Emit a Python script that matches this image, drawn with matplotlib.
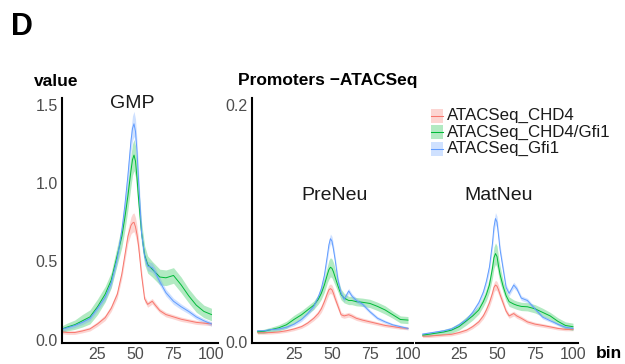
import matplotlib
matplotlib.use("Agg")
import matplotlib.pyplot as plt
from matplotlib.patches import Rectangle
from matplotlib.lines import Line2D
import numpy as np

plt.rcParams['font.family'] = ['Liberation Sans', 'DejaVu Sans']

series_names = ["ATACSeq_CHD4", "ATACSeq_CHD4/Gfi1", "ATACSeq_Gfi1"]
colors = ["#F8766D", "#00BA38", "#619CFF"]
panel_titles = ["GMP", "PreNeu", "MatNeu"]

bins = [1, 5, 10, 15, 20, 25, 30, 34, 38, 41, 43, 45, 47, 48, 49, 50, 51, 52,
        54, 56, 58, 61, 63, 66, 70, 75, 80, 85, 90, 95, 100]

# GMP
gmp_chd4 = [0.05, 0.045, 0.045, 0.055, 0.068, 0.10, 0.14, 0.20, 0.29, 0.42, 0.54, 0.66, 0.73, 0.745, 0.75, 0.72, 0.67, 0.60,
            0.41, 0.26, 0.225, 0.245, 0.22, 0.185, 0.16, 0.145, 0.13, 0.12, 0.11, 0.105, 0.10]
gmp_both = [0.065, 0.08, 0.095, 0.12, 0.145, 0.21, 0.29, 0.38, 0.54, 0.66, 0.78, 0.92, 1.08, 1.15, 1.18, 1.14, 1.03, 0.90,
            0.68, 0.54, 0.48, 0.45, 0.43, 0.40, 0.395, 0.41, 0.35, 0.28, 0.22, 0.18, 0.16]
gmp_gfi1 = [0.065, 0.075, 0.09, 0.11, 0.135, 0.20, 0.27, 0.36, 0.52, 0.70, 0.86, 1.05, 1.27, 1.35, 1.38, 1.33, 1.20, 1.02,
            0.68, 0.53, 0.47, 0.46, 0.43, 0.37, 0.30, 0.245, 0.21, 0.18, 0.145, 0.12, 0.10]
gmp_chd4_se = [0.012, 0.012, 0.012, 0.012, 0.013, 0.015, 0.018, 0.02, 0.025, 0.03, 0.035, 0.045, 0.055, 0.06, 0.06, 0.06, 0.055, 0.05,
               0.035, 0.02, 0.018, 0.018, 0.017, 0.015, 0.015, 0.014, 0.014, 0.013, 0.013, 0.012, 0.012]
gmp_both_se = [0.02, 0.025, 0.03, 0.04, 0.045, 0.05, 0.05, 0.05, 0.06, 0.07, 0.08, 0.09, 0.1, 0.1, 0.1, 0.1, 0.1, 0.09,
               0.07, 0.06, 0.055, 0.05, 0.05, 0.05, 0.05, 0.05, 0.05, 0.045, 0.045, 0.04, 0.04]
gmp_gfi1_se = [0.012, 0.012, 0.013, 0.014, 0.015, 0.018, 0.02, 0.025, 0.03, 0.04, 0.05, 0.06, 0.07, 0.08, 0.08, 0.08, 0.07, 0.06,
               0.04, 0.03, 0.03, 0.03, 0.028, 0.025, 0.022, 0.02, 0.018, 0.016, 0.015, 0.014, 0.014]

# PreNeu
pre_chd4 = [0.0078, 0.0078, 0.008, 0.0085, 0.0095, 0.011, 0.013, 0.016, 0.020, 0.024, 0.028, 0.034, 0.041, 0.044, 0.045, 0.044, 0.041, 0.037,
            0.030, 0.023, 0.022, 0.023, 0.022, 0.020, 0.0185, 0.017, 0.0155, 0.014, 0.013, 0.012, 0.0115]
pre_both = [0.0087, 0.009, 0.0105, 0.012, 0.0145, 0.019, 0.023, 0.027, 0.031, 0.036, 0.041, 0.048, 0.057, 0.061, 0.063, 0.062, 0.059, 0.055,
            0.047, 0.040, 0.037, 0.035, 0.035, 0.034, 0.0335, 0.0325, 0.030, 0.027, 0.023, 0.019, 0.0185]
pre_gfi1 = [0.0095, 0.0095, 0.0105, 0.011, 0.0125, 0.015, 0.019, 0.024, 0.030, 0.038, 0.045, 0.056, 0.073, 0.082, 0.087, 0.085, 0.078, 0.070,
            0.052, 0.041, 0.036, 0.043, 0.039, 0.035, 0.032, 0.0255, 0.020, 0.017, 0.0145, 0.013, 0.0115]
pre_chd4_se = [0.0012, 0.0012, 0.0012, 0.0012, 0.0013, 0.0014, 0.0015, 0.0017, 0.002, 0.0025, 0.003, 0.0035, 0.004, 0.004, 0.004, 0.004, 0.004, 0.0035,
               0.003, 0.0022, 0.002, 0.002, 0.002, 0.0018, 0.0017, 0.0016, 0.0015, 0.0014, 0.0013, 0.0012, 0.0012]
pre_both_se = [0.0015, 0.0017, 0.002, 0.0025, 0.003, 0.0035, 0.0035, 0.0035, 0.0035, 0.004, 0.005, 0.006, 0.007, 0.008, 0.008, 0.008, 0.008, 0.007,
               0.005, 0.0045, 0.004, 0.0035, 0.0035, 0.0035, 0.0035, 0.0035, 0.0035, 0.0035, 0.003, 0.003, 0.003]
pre_gfi1_se = [0.001, 0.001, 0.001, 0.001, 0.0012, 0.0014, 0.0016, 0.0018, 0.002, 0.0025, 0.003, 0.0035, 0.004, 0.004, 0.004, 0.004, 0.004, 0.0035,
               0.003, 0.0025, 0.0022, 0.0022, 0.002, 0.002, 0.0018, 0.0016, 0.0015, 0.0013, 0.0012, 0.0012, 0.0012]

# MatNeu
mat_chd4 = [0.005, 0.005, 0.0055, 0.006, 0.0065, 0.008, 0.010, 0.013, 0.017, 0.022, 0.027, 0.033, 0.041, 0.046, 0.048, 0.047, 0.044, 0.040,
            0.033, 0.026, 0.022, 0.024, 0.022, 0.020, 0.017, 0.0151, 0.014, 0.0128, 0.0115, 0.0107, 0.0107]
mat_both = [0.0059, 0.0065, 0.0075, 0.0085, 0.010, 0.013, 0.018, 0.022, 0.027, 0.034, 0.040, 0.048, 0.062, 0.071, 0.0745, 0.072, 0.064, 0.057,
            0.047, 0.039, 0.034, 0.032, 0.031, 0.030, 0.0297, 0.028, 0.025, 0.022, 0.0175, 0.014, 0.0129]
mat_gfi1 = [0.0067, 0.0075, 0.0085, 0.0095, 0.011, 0.0145, 0.019, 0.025, 0.033, 0.042, 0.051, 0.063, 0.083, 0.097, 0.104, 0.101, 0.090, 0.078,
            0.062, 0.046, 0.041, 0.048, 0.045, 0.037, 0.035, 0.028, 0.021, 0.018, 0.015, 0.0125, 0.0115]
mat_chd4_se = pre_chd4_se
mat_both_se = [0.0012, 0.0014, 0.0017, 0.002, 0.0025, 0.003, 0.0035, 0.0035, 0.0035, 0.004, 0.005, 0.006, 0.008, 0.009, 0.009, 0.009, 0.008, 0.007,
               0.005, 0.0045, 0.004, 0.0035, 0.0035, 0.0035, 0.0035, 0.0035, 0.0035, 0.003, 0.003, 0.003, 0.003]
mat_gfi1_se = [0.001, 0.001, 0.001, 0.0012, 0.0013, 0.0015, 0.0017, 0.002, 0.0025, 0.003, 0.0035, 0.004, 0.0045, 0.005, 0.005, 0.005, 0.0045, 0.004,
               0.003, 0.0025, 0.0022, 0.0025, 0.0022, 0.002, 0.0018, 0.0016, 0.0015, 0.0013, 0.0012, 0.0012, 0.0012]

panels = [
    ([gmp_chd4, gmp_both, gmp_gfi1], [gmp_chd4_se, gmp_both_se, gmp_gfi1_se]),
    ([pre_chd4, pre_both, pre_gfi1], [pre_chd4_se, pre_both_se, pre_gfi1_se]),
    ([mat_chd4, mat_both, mat_gfi1], [mat_chd4_se, mat_both_se, mat_gfi1_se]),
]

W, H = 625, 364
fig = plt.figure(figsize=(W / 100, H / 100), dpi=100)

def rect(x0, y0, x1, y1):
    return [x0 / W, 1 - y1 / H, (x1 - x0) / W, (y1 - y0) / H]

ax_boxes = [rect(62, 98, 218, 343), rect(252, 98, 413, 343), rect(416, 98, 578, 343)]
xlims = [(1.6, 104.3), (-2.6, 103.3), (-3.3, 103.3)]
ylims = [(-0.022, 1.545), (-0.0008, 0.2055), (-0.0008, 0.2055)]
yticks = [[0.0, 0.5, 1.0, 1.5], [0.0, 0.2], []]
title_pos = [(132, 103), (335, 195), (499, 195)]

for i, (box, (means, ses)) in enumerate(zip(ax_boxes, panels)):
    ax = fig.add_axes(box)
    ax.patch.set_alpha(0)
    x = np.array(bins)
    for m, s, c in zip(means, ses, colors):
        m = np.array(m); s = np.array(s)
        ax.fill_between(x, m - s, m + s, color=c, alpha=0.3, lw=0)
        ax.plot(x, m, color=c, lw=0.7)
    ax.set_xlim(*xlims[i])
    ax.set_ylim(*ylims[i])
    ax.set_xticks([25, 50, 75, 100])
    ax.set_yticks(yticks[i])
    ax.set_yticklabels([f"{v:.1f}" for v in yticks[i]])
    ax.tick_params(length=0, labelsize=11.5, labelcolor="#4D4D4D", pad=3)
    ax.tick_params(axis='x', pad=3)
    for side in ["top", "right"]:
        ax.spines[side].set_visible(False)
    ax.spines["bottom"].set_linewidth(1.5)
    ax.spines["left"].set_linewidth(1.5)
    if i == 2:
        ax.spines["left"].set_visible(False)
    fig.text(title_pos[i][0] / W, 1 - title_pos[i][1] / H, panel_titles[i],
             ha="center", va="center", fontsize=14, color="#1A1A1A")

fig.text(11 / W, 1 - 27 / H, "D", fontsize=22, fontweight="bold", ha="left", va="center")
fig.text(34 / W, 1 - 81 / H, "value", fontsize=12.5, fontweight="bold", ha="left", va="center")
fig.text(238 / W, 1 - 80 / H, "Promoters \u2212ATACSeq", fontsize=12.5, fontweight="bold", ha="left", va="center")
fig.text(596 / W, 1 - 353 / H, "bin", fontsize=12.5, fontweight="bold", ha="left", va="center")

# legend
leg_y = [115.5, 132, 148.5]
for name, c, yy in zip(series_names, colors, leg_y):
    fig.patches.append(Rectangle((431 / W, 1 - (yy + 7) / H), 12 / W, 14 / H,
                                 transform=fig.transFigure, facecolor=c, alpha=0.3, lw=0))
    fig.lines.append(Line2D([431 / W, 443 / W], [1 - yy / H, 1 - yy / H],
                            transform=fig.transFigure, color=c, lw=0.75))
    fig.text(447 / W, 1 - yy / H, name, fontsize=12.2, ha="left", va="center", color="#1A1A1A")

fig.savefig("out.png", dpi=100)
